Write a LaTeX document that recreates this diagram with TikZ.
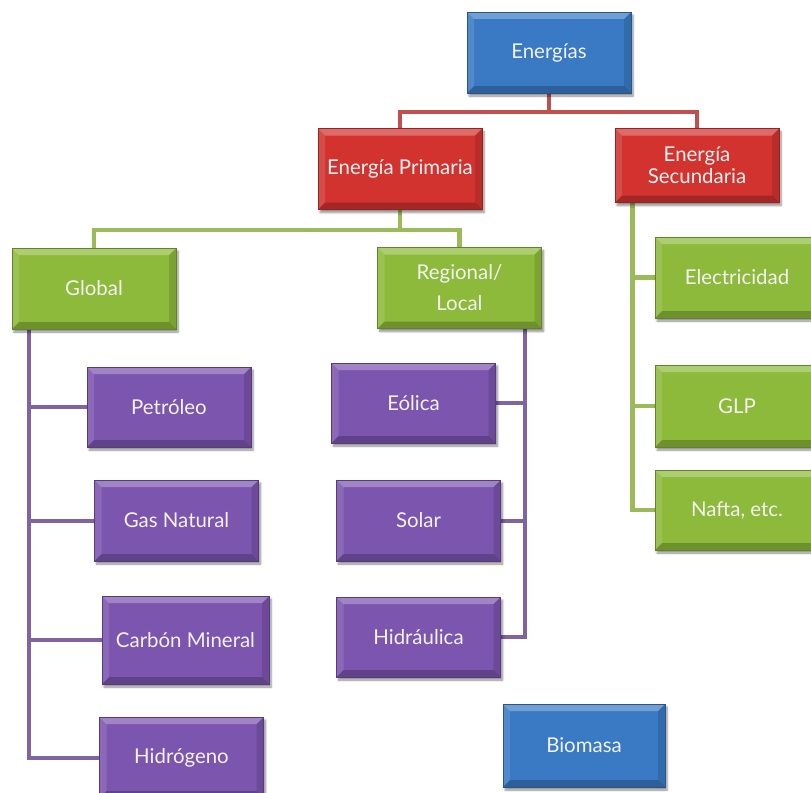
\documentclass[tikz,border=0pt]{standalone}
\usepackage{fontspec}
\setmainfont{Lato}
\usetikzlibrary{shadows.blur,calc}

\definecolor{cblue}{HTML}{3A7AC4}
\definecolor{cred}{HTML}{D2332F}
\definecolor{cgreen}{HTML}{8DBA3A}
\definecolor{cpurple}{HTML}{7C55AF}
\definecolor{lred}{HTML}{C0504D}
\definecolor{lgreen}{HTML}{9BBB59}
\definecolor{lpurple}{HTML}{8064A2}
\definecolor{txt}{HTML}{F2F2F2}

\pgfdeclarelayer{links}
\pgfsetlayers{links,main}

\tikzset{
  bevelbox/.style={
    rectangle, minimum width=164bp, minimum height=81bp, inner sep=0pt,
    fill=#1, draw=#1!70!black, line width=0.6bp,
    text=txt, font=\fontsize{20.5}{24}\selectfont, align=center,
    blur shadow={shadow xshift=2bp, shadow yshift=-3bp, shadow blur steps=6, shadow opacity=45},
    path picture={
      \coordinate (nw) at (path picture bounding box.north west);
      \coordinate (ne) at (path picture bounding box.north east);
      \coordinate (sw) at (path picture bounding box.south west);
      \coordinate (se) at (path picture bounding box.south east);
      % top and left bevel faces, lit
      \fill[white,opacity=0.28] (nw) -- (ne) -- ($(ne)+(-7bp,-7bp)$) -- ($(nw)+(7bp,-7bp)$) -- cycle;
      \fill[white,opacity=0.12] (nw) -- ($(nw)+(7bp,-7bp)$) -- ($(sw)+(7bp,7bp)$) -- (sw) -- cycle;
      % bottom and right bevel faces, in shade
      \fill[black,opacity=0.22] (sw) -- (se) -- ($(se)+(-7bp,7bp)$) -- ($(sw)+(7bp,7bp)$) -- cycle;
      \fill[black,opacity=0.12] (ne) -- (se) -- ($(se)+(-7bp,7bp)$) -- ($(ne)+(-7bp,-7bp)$) -- cycle;
    }
  },
  bluebox/.style={bevelbox=cblue},
  redbox/.style={bevelbox=cred},
  greenbox/.style={bevelbox=cgreen},
  purplebox/.style={bevelbox=cpurple},
  redlink/.style={draw=lred, line width=4.5bp},
  greenlink/.style={draw=lgreen, line width=4.5bp},
  purplelink/.style={draw=lpurple, line width=4bp},
}

\begin{document}
\begin{tikzpicture}[x=1bp,y=-1bp]
\useasboundingbox (0,0) rectangle (811,793);
\clip (0,0) rectangle (811,793);

% ---------- boxes ----------
\node[bluebox]   (en)   at (549,52.5)  {Energías};
\node[redbox]    (prim) at (400,169)   {Energía Primaria};
\node[redbox, minimum height=74bp] (sec) at (697,165.5) {Energía\\[-2bp]Secundaria};

\node[greenbox]  (glob) at (94,288.5)  {Global};
\node[greenbox]  (reg)  at (459.5,288) {Regional/\\[7bp]Local};

\node[purplebox, minimum height=80bp] (pet)  at (169,407)   {Petróleo};
\node[purplebox] (gas)  at (176.5,520.5) {Gas Natural};
\node[purplebox, minimum width=167bp, minimum height=88bp] (carb) at (185.5,640) {Carbón Mineral};
\node[purplebox] (hid)  at (181.5,757.5) {Hidrógeno};

\node[purplebox, minimum height=80bp] (eol)  at (413.5,403) {Eólica};
\node[purplebox] (sol)  at (418.5,520.5) {Solar};
\node[purplebox, minimum height=80bp] (hidr) at (418.5,637) {Hidráulica};

\node[greenbox]  (elec) at (737,277.5) {Electricidad};
\node[greenbox, minimum height=82bp] (glp) at (737,406) {GLP};
\node[greenbox, minimum height=80bp] (naf) at (737,510) {Nafta, etc.};

\node[bluebox, minimum width=162bp, minimum height=83bp] (bio) at (584,745.5) {Biomasa};

% ---------- connectors, behind the boxes ----------
\begin{pgfonlayer}{links}
  % top level
  \coordinate (rj) at (en.south |- 0,112);
  \draw[redlink] (en.south) -- (rj) -| (prim.north);
  \draw[redlink] (rj) -| (sec.north);
  % primary energy split
  \coordinate (gj) at (prim.south |- 0,230);
  \draw[greenlink] (prim.south) -- (gj) -| (glob.north);
  \draw[greenlink] (gj) -| (reg.north);
  % global sources
  \draw[purplelink] ([xshift=17bp]glob.south west) coordinate (gl) |- (hid.west);
  \foreach \n in {pet,gas,carb} \draw[purplelink] (\n.west) -- (\n.west -| gl);
  % regional sources
  \draw[purplelink] ([xshift=-17bp]reg.south east) coordinate (rl) |- (hidr.east);
  \foreach \n in {eol,sol} \draw[purplelink] (\n.east) -- (\n.east -| rl);
  % secondary energy
  \draw[greenlink] ([xshift=18bp]sec.south west) coordinate (sl) |- (naf.west);
  \foreach \n in {elec,glp} \draw[greenlink] (\n.west) -- (\n.west -| sl);
\end{pgfonlayer}
\end{tikzpicture}
\end{document}
